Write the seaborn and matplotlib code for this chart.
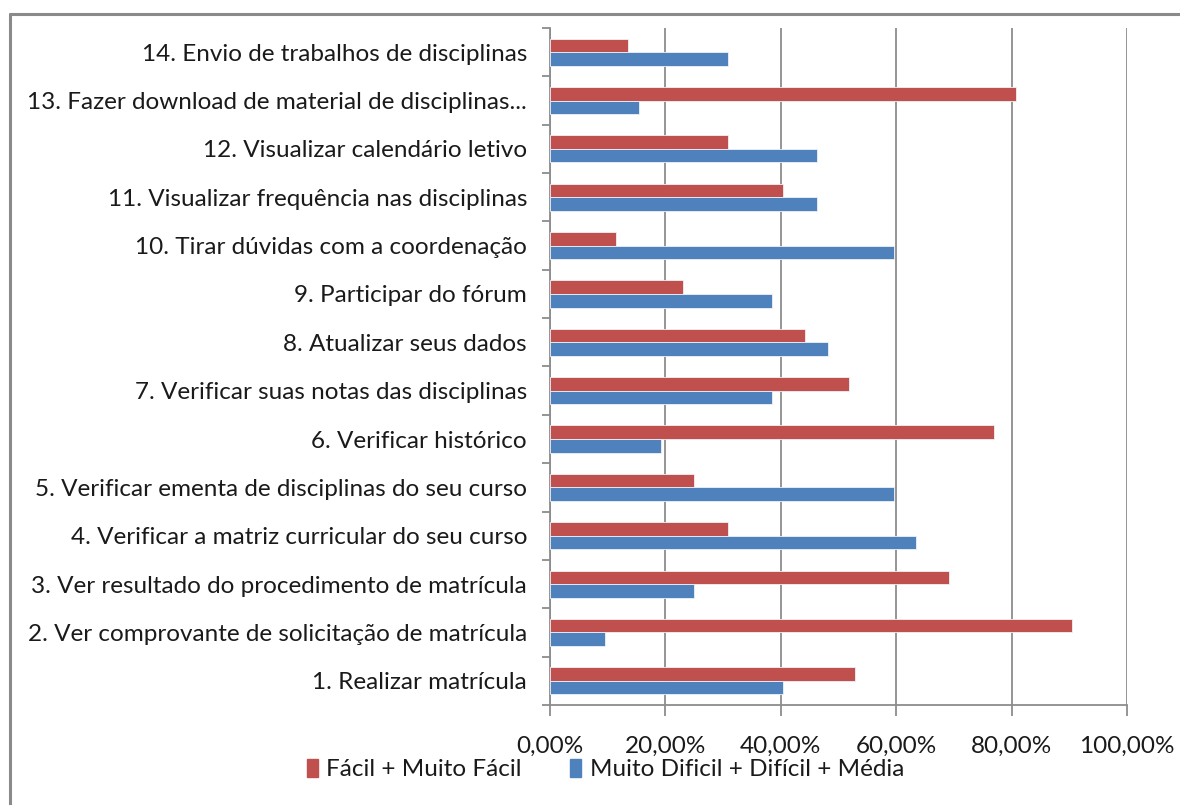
import matplotlib
matplotlib.use("Agg")
import matplotlib.pyplot as plt
from matplotlib.lines import Line2D
from matplotlib.ticker import FuncFormatter
import seaborn as sns
import pandas as pd

categories = [
    "14. Envio de trabalhos de disciplinas",
    "13. Fazer download de material de disciplinas...",
    "12. Visualizar calendário letivo",
    "11. Visualizar frequência nas disciplinas",
    "10. Tirar dúvidas com a coordenação",
    "9. Participar do fórum",
    "8. Atualizar seus dados",
    "7. Verificar suas notas das disciplinas",
    "6. Verificar histórico",
    "5. Verificar ementa de disciplinas do seu curso",
    "4. Verificar a matriz curricular do seu curso",
    "3. Ver resultado do procedimento de matrícula",
    "2. Ver comprovante de solicitação de matrícula",
    "1. Realizar matrícula",
]
facil = [13.5, 80.8, 30.8, 40.4, 11.5, 23.1, 44.2, 51.9, 76.9, 25.0, 30.8, 69.2, 90.4, 52.9]
dificil = [30.8, 15.4, 46.2, 46.2, 59.6, 38.5, 48.1, 38.5, 19.2, 59.6, 63.5, 25.0, 9.6, 40.4]
series_names = ["Fácil + Muito Fácil", "Muito Dificil + Difícil + Média"]
x_ticks = [0, 20, 40, 60, 80, 100]

RED = "#C0504D"
BLUE = "#4F81BD"
FS = 17.5

df = pd.DataFrame({
    "cat": categories * 2,
    "val": facil + dificil,
    "serie": [series_names[0]] * len(categories) + [series_names[1]] * len(categories),
})

sns.set_theme(style="white")
plt.rcParams["font.family"] = ["Lato", "DejaVu Sans"]

fig = plt.figure(figsize=(11.8, 8.05), dpi=100)
ax = fig.add_axes([550 / 1180, 1 - 705 / 805, (1127 - 550) / 1180, (705 - 28) / 805])

sns.barplot(data=df, y="cat", x="val", hue="serie", order=categories,
            hue_order=series_names, palette=[RED, BLUE], saturation=1,
            orient="h", width=0.56, ax=ax, edgecolor="#eef2f8", linewidth=0.6,
            legend=True, zorder=3)

ax.set_xlim(0, 100)
ax.set_ylim(len(categories) - 0.5, -0.5)
ax.set_xticks(x_ticks)
ax.xaxis.set_major_formatter(FuncFormatter(lambda v, p: f"{v:.2f}".replace(".", ",") + "%"))
ax.set_xlabel("")
ax.set_ylabel("")
ax.grid(axis="x", color="#8c8c8c", linewidth=1.3, zorder=0)
ax.set_axisbelow(True)
for s in ["top", "right"]:
    ax.spines[s].set_visible(False)
for s in ["left", "bottom"]:
    ax.spines[s].set_color("#8c8c8c")
    ax.spines[s].set_linewidth(1.3)

# category boundary ticks
ax.set_yticks([i - 0.5 for i in range(len(categories) + 1)], minor=True)
ax.tick_params(axis="y", which="major", length=0, labelsize=FS, labelcolor="#1a1a1a", pad=16.5)
ax.tick_params(axis="y", which="minor", length=6, width=1.3, color="#8c8c8c", direction="out", left=True)
ax.tick_params(axis="x", which="major", length=8, width=1.3, color="#8c8c8c", direction="out",
               bottom=True, labelsize=FS, labelcolor="#1a1a1a", pad=14)

ax.legend_.remove()
handles = [plt.Rectangle((0, 0), 1, 1, color=RED), plt.Rectangle((0, 0), 1, 1, color=BLUE)]
fig.legend(handles, series_names, loc="center", bbox_to_anchor=(0.513, 0.044), ncol=2,
           frameon=False, fontsize=FS, handlelength=0.45, handleheight=0.75,
           handletextpad=0.35, columnspacing=2.0, labelcolor="#1a1a1a")

# chart area frame (top and left edges visible)
fig.add_artist(Line2D([10 / 1180, 1.0], [1 - 14 / 805, 1 - 14 / 805], transform=fig.transFigure,
                      color="#8a8a8a", linewidth=2.2))
fig.add_artist(Line2D([10 / 1180, 10 / 1180], [1 - 14 / 805, 0.0], transform=fig.transFigure,
                      color="#8a8a8a", linewidth=2.2))

fig.savefig("out.png", dpi=100)
